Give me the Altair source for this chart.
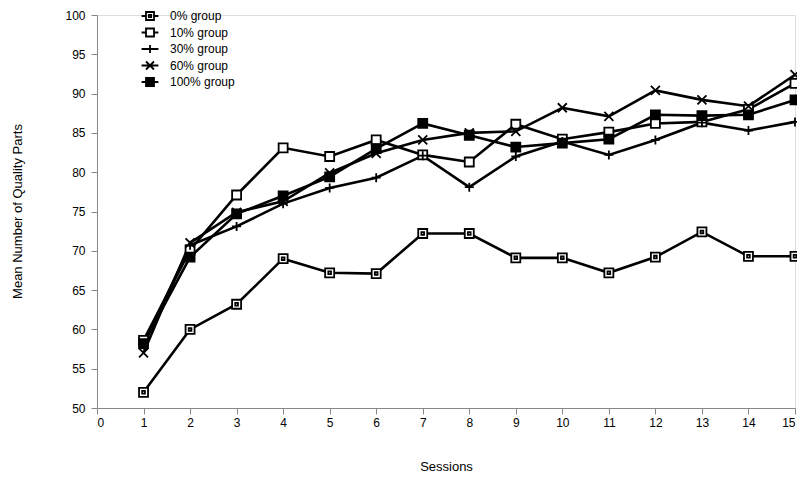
import altair as alt
import pandas as pd

groups = ["0% group", "10% group", "30% group", "60% group", "100% group"]
sessions = list(range(1, 16))
g0 = [52.0, 60.0, 63.2, 69.0, 67.2, 67.1, 72.2, 72.2, 69.1, 69.1, 67.2, 69.2, 72.4, 69.3, 69.3]
g10 = [58.6, 70.1, 77.1, 83.1, 82.0, 84.1, 82.2, 81.3, 86.1, 84.2, 85.1, 86.2, 86.4, 88.0, 91.3]
g30 = [58.0, 70.7, 73.1, 76.0, 78.0, 79.3, 82.1, 78.1, 82.0, 83.9, 82.2, 84.1, 86.3, 85.3, 86.4]
g60 = [57.0, 71.0, 74.9, 76.3, 79.9, 82.4, 84.1, 85.0, 85.2, 88.2, 87.1, 90.4, 89.2, 88.4, 92.4]
g100 = [58.2, 69.2, 74.7, 77.0, 79.4, 83.0, 86.2, 84.7, 83.2, 83.7, 84.2, 87.3, 87.2, 87.3, 89.2]
x_ticks = list(range(0, 16))
y_ticks = list(range(50, 101, 5))

series = [g0, g10, g30, g60, g100]
rows = []
for g, vals in zip(groups, series):
    for s, v in zip(sessions, vals):
        rows.append({"Session": s, "Value": v, "Group": g})
df = pd.DataFrame(rows)

sq = "M-1,-1H1V1H-1Z"
sq_dot = "M-1,-1H1V1H-1Z M-0.3,-0.3H0.3V0.3H-0.3Z"
sq_solid = "M-1,-1H1V1H-1Z M-1,-0.5H1 M-1,0H1 M-1,0.5H1"
plus = "M-1,0H1M0,-1V1"
xx = "M-1,-1L1,1M-1,1L1,-1"
marker_shapes = [sq_dot, sq, plus, xx, sq]
marker_fills = ["white", "white", "black", "black", "black"]
seg = "M-2.1,0H-1M1,0H2.1 "
legend_shapes = [seg + sq_dot, seg + sq, "M-2.1,0H2.1 " + plus,
                 "M-2.1,0H2.1 " + xx, seg + sq_solid]

font = "Liberation Sans"

x = alt.X("Session:Q",
          scale=alt.Scale(domain=[0, 15], nice=False, zero=False),
          axis=alt.Axis(values=x_ticks, title="Sessions", titleFontSize=13,
                        titleFontWeight="normal", titleY=58, titleBaseline="middle",
                        labelFontSize=12, tickSize=6, labelPadding=3, format="d",
                        grid=False))
y = alt.Y("Value:Q",
          scale=alt.Scale(domain=[50, 100], nice=False, zero=False),
          axis=alt.Axis(values=y_ticks, title="Mean Number of Quality Parts",
                        titleFontSize=13, titleFontWeight="normal",
                        titleX=-80, titleY=196, titleAngle=-90, titleAlign="center",
                        titleBaseline="middle", grid=False,
                        labelFontSize=12, tickSize=6, labelPadding=6))

lines = alt.Chart(df).mark_line(color="black", strokeWidth=2.6).encode(
    x=x, y=y, detail="Group:N"
)

points = alt.Chart(df).mark_point(filled=True, stroke="black", strokeWidth=1.8,
                                  size=81, opacity=1).encode(
    x=x, y=y,
    shape=alt.Shape("Group:N", scale=alt.Scale(domain=groups, range=marker_shapes), legend=None),
    fill=alt.Fill("Group:N", scale=alt.Scale(domain=groups, range=marker_fills), legend=None),
)

legend_layer = alt.Chart(df).transform_filter("datum.Session < 0").mark_point(
    filled=False, stroke="black", strokeWidth=1.8, size=64, opacity=1
).encode(
    x=x, y=y,
    shape=alt.Shape("Group:N", scale=alt.Scale(domain=groups, range=legend_shapes),
                    legend=alt.Legend(title=None, orient="none", legendX=47, legendY=-5,
                                      symbolSize=64, symbolStrokeColor="black",
                                      symbolFillColor="white",
                                      symbolStrokeWidth=1.8, labelOffset=14,
                                      labelFontSize=12, labelFont=font, rowPadding=0.5,
                                      padding=0, symbolOpacity=1, labelColor="black")),
)

chart = alt.layer(lines, points, legend_layer).resolve_scale(
    shape="independent", fill="independent"
).properties(
    width=698, height=393,
    autosize=alt.AutoSizeParams(type="none"),
    padding={"left": 89, "top": 7, "right": 2, "bottom": 70},
).configure_view(stroke=None).configure_axis(
    grid=False, domainColor="black", domainWidth=2, tickColor="black", tickWidth=2,
    labelColor="black", titleColor="black", labelFont=font, titleFont=font,
).configure(background="white")

chart.save("out.html", embed_options={"renderer": "svg", "actions": False})
